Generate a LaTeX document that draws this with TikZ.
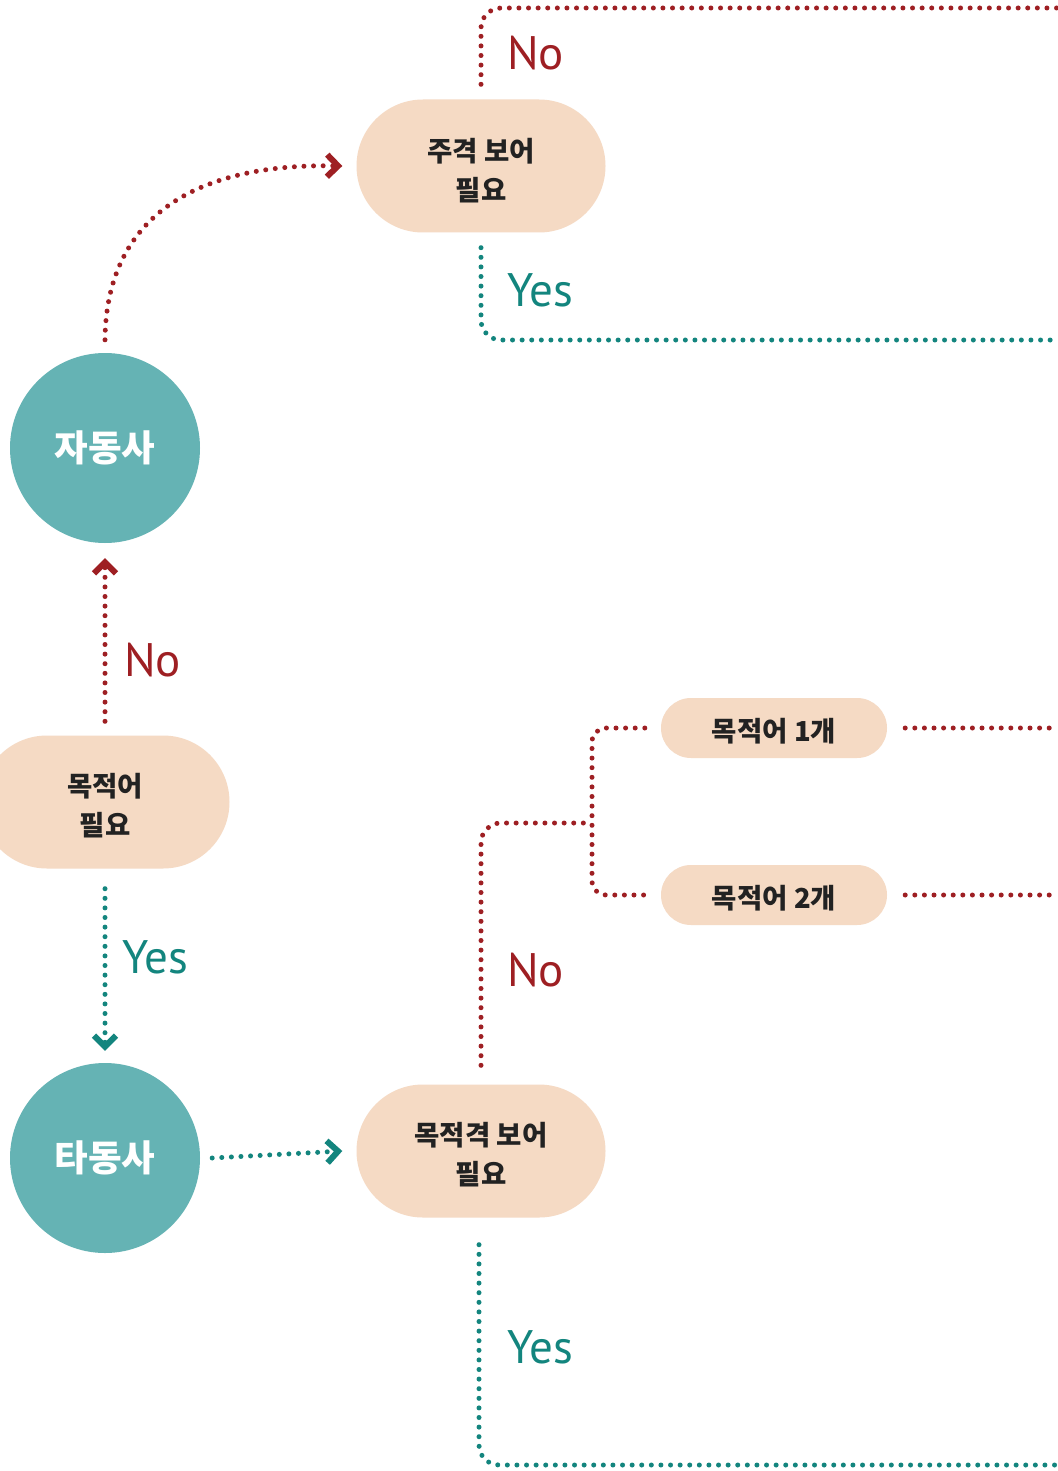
\documentclass[tikz,border=0pt]{standalone}
\usepackage{fontspec}
\newfontfamily\kr{Noto Sans CJK KR}
\newfontfamily\lab{PT Sans}
\usetikzlibrary{arrows.meta,shapes.misc}
\definecolor{dred}{HTML}{9E1F23}
\definecolor{teal}{HTML}{13857E}
\definecolor{circc}{HTML}{65B3B4}
\definecolor{pillc}{HTML}{F5DAC4}
\definecolor{inkc}{HTML}{222222}
\newcommand{\pilltext}[2]{\raisebox{#1}[\height][\depth]{\begin{tabular}{@{}c@{}}#2\end{tabular}}}
\begin{document}
\begin{tikzpicture}[x=1pt,y=-1pt,
  pill/.style={rounded rectangle, fill=pillc, text=inkc, inner sep=0pt,
    font=\kr\bfseries\fontsize{27.5}{39.5}\selectfont,
    minimum height=133pt, minimum width=249pt},
  smallpill/.style={rounded rectangle, fill=pillc, text=inkc, inner sep=0pt,
    font=\kr\bfseries\fontsize{27.5}{30}\selectfont,
    minimum height=60pt, minimum width=226pt},
  verb/.style={circle, fill=circc, text=white, inner sep=0pt, minimum size=190pt,
    font=\kr\bfseries\fontsize{36.5}{40}\selectfont},
  dotline/.style={line width=5pt, line cap=round, dash pattern=on 0pt off 9.6pt},
  reddot/.style={dotline, draw=dred},
  tealdot/.style={dotline, draw=teal},
  tip/.style={-{Straight Barb[length=11pt,width=22pt,line width=6pt 0]}},
  nolab/.style={anchor=west, text=dred, font=\lab\fontsize{47}{50}\selectfont, inner sep=0pt},
  yeslab/.style={anchor=west, text=teal, font=\lab\fontsize{47}{50}\selectfont, inner sep=0pt}
]
\useasboundingbox (0,0) rectangle (1057,1471);
\fill[white] (0,0) rectangle (1057,1471);

% nodes
\node[pill] (objneed) at (105,802) {\pilltext{-6pt}{목적어\\필요}};
\node[verb] (intr) at (105,448) {자동사};
\node[verb] (trans) at (105,1158) {타동사};
\node[pill] (subjc) at (481,166) {\pilltext{-7pt}{주격 보어\\필요}};
\node[pill] (objc) at (481,1151) {\pilltext{-6pt}{목적격 보어\\필요}};
\node[smallpill] (one) at (774,728) {\raisebox{-3pt}[\height][\depth]{목적어 1개}};
\node[smallpill] (two) at (774,895) {\raisebox{-3pt}[\height][\depth]{목적어 2개}};

% free ends at right border
\coordinate (e1) at (1057,8);
\coordinate (e2) at (1057,340);
\coordinate (e3) at (1057,728);
\coordinate (e4) at (1057,895);
\coordinate (e5) at (1057,1465);
\coordinate (jn) at (592,823);

% objneed -> intr (No)
\draw[reddot, tip] ([yshift=14pt]objneed.north) -- ([yshift=-15pt]intr.south);
\node[nolab] at (124,660) {No};
% objneed -> trans (Yes)
\draw[tealdot, tip] ([yshift=-20pt]objneed.south) -- ([yshift=12pt]trans.north);
\node[yeslab] at (122,957) {Yes};

% intr -> subjc
\draw[reddot, tip] ([yshift=13pt]intr.north) .. controls (106,225) and (185,163) .. ([xshift=-14pt]subjc.west);

% subjc outputs
\draw[reddot, rounded corners=20pt] ([yshift=15pt]subjc.north) -- (481,8) -- (e1);
\node[nolab] at (507,53) {No};
\draw[tealdot, rounded corners=20pt] ([yshift=-15pt]subjc.south) -- (481,340) -- (e2);
\node[yeslab] at (507,290) {Yes};

% trans -> objc
\draw[tealdot, tip] ([xshift=12pt]trans.east) -- ([xshift=-14pt]objc.west);

% objc outputs
\draw[reddot, rounded corners=20pt] ([yshift=19pt]objc.north) -- (481,823) -- (jn);
\draw[reddot, rounded corners=14pt] ([xshift=-16pt]one.west) -- (592,728) -- (592,895) -- ([xshift=-16pt]two.west);
\node[nolab] at (507,970) {No};
\draw[tealdot, rounded corners=20pt] ([xshift=-2pt,yshift=-27pt]objc.south) -- (479,1465) -- (e5);
\node[yeslab] at (507,1347) {Yes};

% one / two outputs
\draw[reddot] ([xshift=18pt]one.east) -- (e3);
\draw[reddot] ([xshift=18pt]two.east) -- (e4);
\end{tikzpicture}
\end{document}
